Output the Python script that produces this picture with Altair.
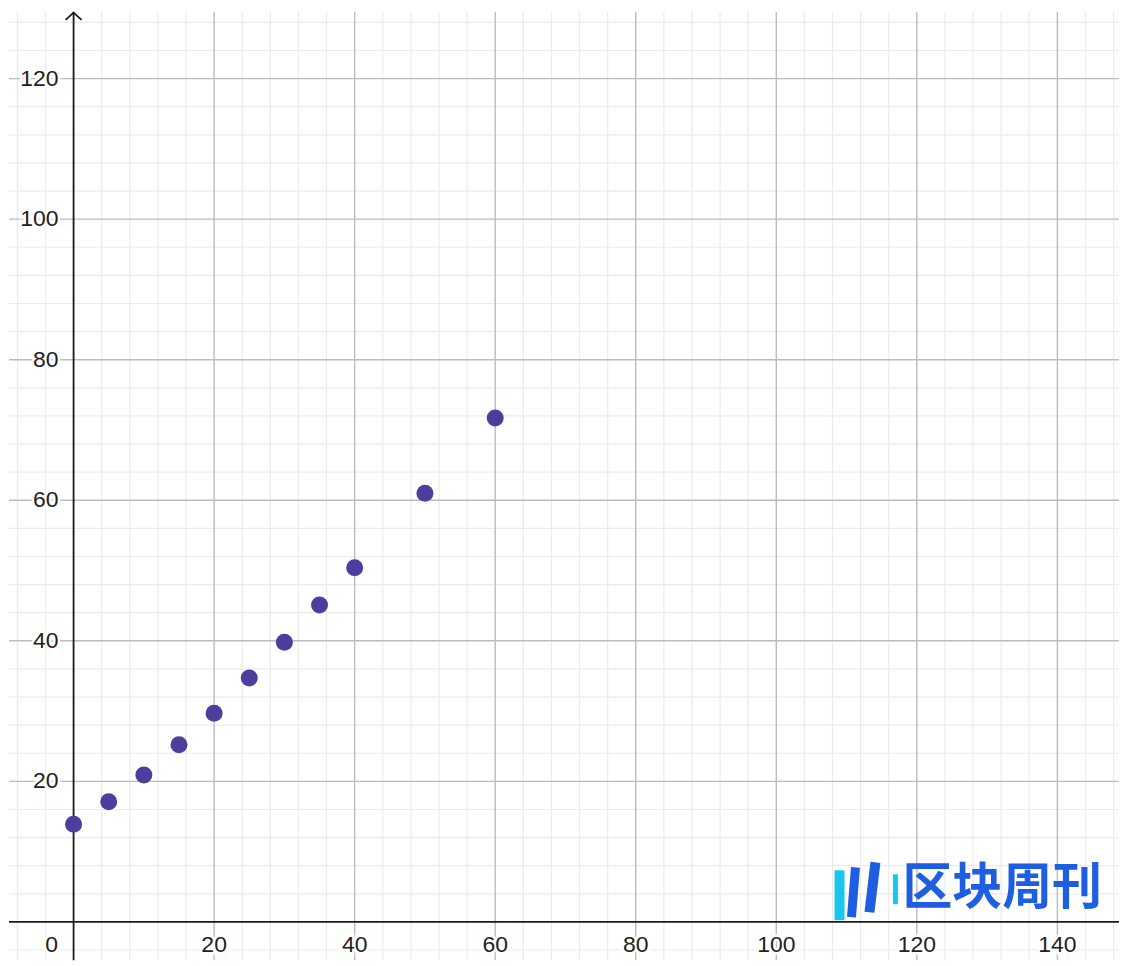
import altair as alt
import pandas as pd

# data
xs_vals = [0, 5, 10, 15, 20, 25, 30, 35, 40, 50, 60]
ys_vals = [13.9, 17.1, 20.9, 25.2, 29.7, 34.7, 39.8, 45.1, 50.4, 61.0, 71.7]

x_tick_labels = [20, 40, 60, 80, 100, 120, 140]
y_tick_labels = [20, 40, 60, 80, 100, 120]
x_minor = list(range(-8, 152, 4))
y_minor = list(range(-4, 132, 4))
x_major = list(range(0, 160, 20))
y_major = list(range(0, 140, 20))

X_DOMAIN = [-9.19, 148.77]
Y_DOMAIN = [-5.44, 129.5]

W, H = 1112, 950
xs = alt.Scale(domain=X_DOMAIN, nice=False, zero=False)
ys = alt.Scale(domain=Y_DOMAIN, nice=False, zero=False)

pts = pd.DataFrame({"x": xs_vals, "y": ys_vals})

def vgrid(vals, color, width):
    return alt.Chart(pd.DataFrame({"v": vals})).mark_rule(color=color, strokeWidth=width).encode(
        x=alt.X("v:Q", scale=xs, axis=None))

def hgrid(vals, color, width):
    return alt.Chart(pd.DataFrame({"v": vals})).mark_rule(color=color, strokeWidth=width).encode(
        y=alt.Y("v:Q", scale=ys, axis=None))

minor = vgrid([v for v in x_minor if v % 20], "#ebebeb", 1.2) + hgrid([v for v in y_minor if v % 20], "#ebebeb", 1.2)
major = vgrid([v for v in x_major if v != 0], "#bcbcbc", 1.4) + hgrid([v for v in y_major if v != 0], "#bcbcbc", 1.4)
axes = vgrid([0], "#1a1a1a", 1.8) + hgrid([0], "#1a1a1a", 1.8)

arrow = alt.Chart(pd.DataFrame({"x": [0], "y": [Y_DOMAIN[1] - 0.12]})).mark_point(
    shape="M-1,0.9L0,0L1,0.9", size=256, filled=False, color="#1a1a1a", strokeWidth=1.8, opacity=1
).encode(x=alt.X("x:Q", scale=xs, axis=None), y=alt.Y("y:Q", scale=ys, axis=None))

points = alt.Chart(pts).mark_circle(size=290, color="#4B3F9E", opacity=1).encode(
    x=alt.X("x:Q", scale=xs, axis=None), y=alt.Y("y:Q", scale=ys, axis=None))

FONT = "Liberation Sans"
FS = 23
xl = pd.DataFrame({"x": x_tick_labels, "y": [0] * len(x_tick_labels), "t": [str(v) for v in x_tick_labels]})
yl = pd.DataFrame({"x": [0] * len(y_tick_labels), "y": y_tick_labels, "t": [str(v) for v in y_tick_labels]})
ol = pd.DataFrame({"x": [0], "y": [0], "t": ["0"]})

def labels(df, align, dx, dy):
    base = alt.Chart(df).encode(x=alt.X("x:Q", scale=xs, axis=None), y=alt.Y("y:Q", scale=ys, axis=None), text="t:N")
    halo = base.mark_text(align=align, baseline="middle", dx=dx, dy=dy, font=FONT, fontSize=FS,
                          stroke="white", strokeWidth=5, fill="white")
    txt = base.mark_text(align=align, baseline="middle", dx=dx, dy=dy, font=FONT, fontSize=FS, color="#222222")
    return halo + txt

lab = labels(xl, "center", 0, 23) + labels(yl, "right", -15, 0) + labels(ol, "center", -22, 23)

# watermark
def seg(color, w, x1, x2, y1, y2):
    return alt.Chart(pd.DataFrame({"a": [0]})).mark_rule(color=color, strokeWidth=w).encode(
        x=alt.value(x1), x2=alt.value(x2), y=alt.value(y1), y2=alt.value(y2))

wm_text = alt.Chart(pd.DataFrame({"t": ["区块周刊"]})).mark_text(
    font="Noto Sans CJK SC", fontSize=50, fontWeight="bold", color="#1D5FE0", align="left", baseline="middle"
).encode(text="t:N", x=alt.value(895), y=alt.value(879))
wm = alt.layer(
    seg("#18C6F0", 10, 832, 832, 860, 910),
    seg("#1D5FE0", 9, 848, 844, 857, 907),
    seg("#1D5FE0", 10, 868, 862, 852, 902),
    seg("#18C6F0", 5, 888, 888, 864, 894),
    wm_text,
)

chart = alt.layer(minor, major, axes, arrow, points, lab, wm).properties(
    width=W, height=H, padding=0, background="white"
).configure_view(stroke=None)

chart.save("out.html", embed_options={"renderer": "svg", "actions": False})
